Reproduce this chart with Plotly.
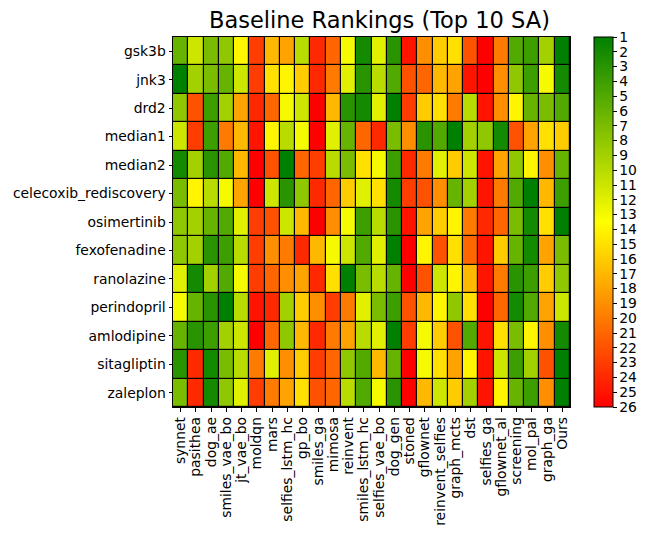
import plotly.graph_objects as go

# Rank of each method (1 = best) per oracle
oracles = ["gsk3b", "jnk3", "drd2", "median1", "median2", "celecoxib_rediscovery",
           "osimertinib", "fexofenadine", "ranolazine", "perindopril",
           "amlodipine", "sitagliptin", "zaleplon"]

methods = ["synnet", "pasithea", "dog_ae", "smiles_vae_bo", "jt_vae_bo", "moldqn",
           "mars", "selfies_lstm_hc", "gp_bo", "smiles_ga", "mimosa", "reinvent",
           "smiles_lstm_hc", "selfies_vae_bo", "dog_gen", "stoned", "gflownet",
           "reinvent_selfies", "graph_mcts", "dst", "selfies_ga", "gflownet_al",
           "screening", "mol_pal", "graph_ga", "Ours"]

rank_gsk3b = [6, 11, 7, 8, 14, 23, 17, 18, 10, 24, 21, 13, 2, 12, 3, 25, 19, 16, 15, 22, 26, 20, 5, 4, 9, 1]
rank_jnk3 = [1, 9, 7, 6, 11, 23, 15, 14, 16, 24, 20, 12, 3, 10, 5, 22, 21, 17, 18, 25, 26, 19, 8, 4, 13, 2]
rank_drd2 = [8, 22, 4, 9, 18, 24, 21, 13, 11, 26, 17, 3, 2, 12, 1, 23, 16, 15, 20, 10, 25, 19, 14, 6, 7, 5]
rank_median1 = [11, 23, 4, 20, 17, 25, 14, 10, 13, 26, 12, 6, 21, 24, 7, 19, 3, 5, 1, 9, 8, 2, 22, 18, 15, 16]
rank_median2 = [2, 9, 3, 5, 17, 26, 22, 1, 21, 23, 10, 7, 15, 13, 4, 24, 20, 12, 16, 11, 25, 18, 8, 14, 19, 6]
rank_celecoxib = [7, 14, 10, 13, 18, 26, 11, 3, 8, 24, 21, 16, 12, 15, 2, 23, 22, 19, 6, 9, 25, 20, 5, 1, 17, 4]
rank_osimertinib = [8, 9, 6, 5, 12, 23, 22, 11, 17, 26, 19, 13, 4, 10, 3, 25, 18, 16, 14, 20, 24, 21, 7, 2, 15, 1]
rank_fexofenadine = [8, 9, 3, 4, 10, 23, 19, 20, 24, 17, 13, 11, 5, 12, 1, 26, 14, 22, 15, 21, 25, 16, 6, 2, 18, 7]
rank_ranolazine = [12, 2, 9, 5, 13, 23, 21, 19, 18, 24, 15, 1, 7, 10, 6, 26, 22, 11, 14, 17, 25, 20, 3, 4, 16, 8]
rank_perindopril = [13, 6, 3, 1, 10, 25, 24, 9, 16, 19, 23, 20, 12, 7, 4, 22, 17, 14, 8, 15, 26, 21, 2, 5, 18, 11]
rank_amlodipine = [6, 3, 4, 9, 11, 26, 21, 8, 17, 24, 20, 18, 10, 12, 1, 23, 13, 16, 22, 5, 25, 15, 7, 14, 19, 2]
rank_sitagliptin = [3, 24, 2, 7, 10, 20, 12, 19, 16, 23, 21, 8, 5, 17, 6, 26, 13, 15, 18, 14, 25, 11, 4, 9, 22, 1]
rank_zaleplon = [7, 24, 2, 8, 12, 23, 20, 18, 15, 22, 21, 10, 5, 13, 3, 26, 17, 11, 16, 9, 25, 14, 6, 4, 19, 1]

cbar_ticks = list(range(1, 27))

ranks = [rank_gsk3b, rank_jnk3, rank_drd2, rank_median1, rank_median2, rank_celecoxib,
         rank_osimertinib, rank_fexofenadine, rank_ranolazine, rank_perindopril,
         rank_amlodipine, rank_sitagliptin, rank_zaleplon]

font_family = "DejaVu Sans"
tick_font_size = 13.9

# plotly colorbars can't be flipped, so map -rank to colour and relabel the ticks
z_neg = [[-v for v in row] for row in ranks]

fig = go.Figure(go.Heatmap(
    z=z_neg, x=methods, y=oracles, customdata=ranks,
    hovertemplate="%{y} / %{x}: rank %{customdata}<extra></extra>",
    colorscale=[[0.0, "#ff0000"], [0.5, "#ffff00"], [1.0, "#008000"]],
    zmin=-26, zmax=-1,
    xgap=1.2, ygap=1.2,
    colorbar=dict(
        tickvals=[-t for t in cbar_ticks], ticktext=[str(t) for t in cbar_ticks],
        thickness=19, len=1.0, lenmode="fraction", y=0.5, yanchor="middle",
        x=1.0605, xanchor="left", xpad=0, ypad=0,
        outlinecolor="black", outlinewidth=1,
        ticks="outside", ticklen=3.5, tickcolor="black",
        tickfont=dict(family=font_family, size=tick_font_size, color="black"),
    ),
))

# the page puts the figure ~8px in from the top-left, so margins are shifted to compensate
fig.update_layout(
    width=650, height=535,
    margin=dict(l=165, r=88, t=29, b=136),
    paper_bgcolor="white", plot_bgcolor="black",
    title=dict(text="Baseline Rankings (Top 10 SA)", x=0.5715, xanchor="center",
               yref="container", y=0.977, yanchor="middle",
               font=dict(family=font_family, size=22.5, color="black")),
    font=dict(family=font_family, color="black"),
)
fig.update_xaxes(tickmode="array", tickvals=methods, tickangle=-90,
                 ticks="outside", ticklen=3.5, tickcolor="black",
                 tickfont=dict(family=font_family, size=tick_font_size, color="black"),
                 showline=True, linecolor="black", linewidth=1, mirror=True,
                 showgrid=False, zeroline=False, automargin=False)
fig.update_yaxes(autorange="reversed", tickmode="array", tickvals=oracles,
                 ticks="outside", ticklen=3.5, tickcolor="black",
                 tickfont=dict(family=font_family, size=tick_font_size, color="black"),
                 showline=True, linecolor="black", linewidth=1, mirror=True,
                 showgrid=False, zeroline=False, automargin=False)

fig.write_html("out.html")
